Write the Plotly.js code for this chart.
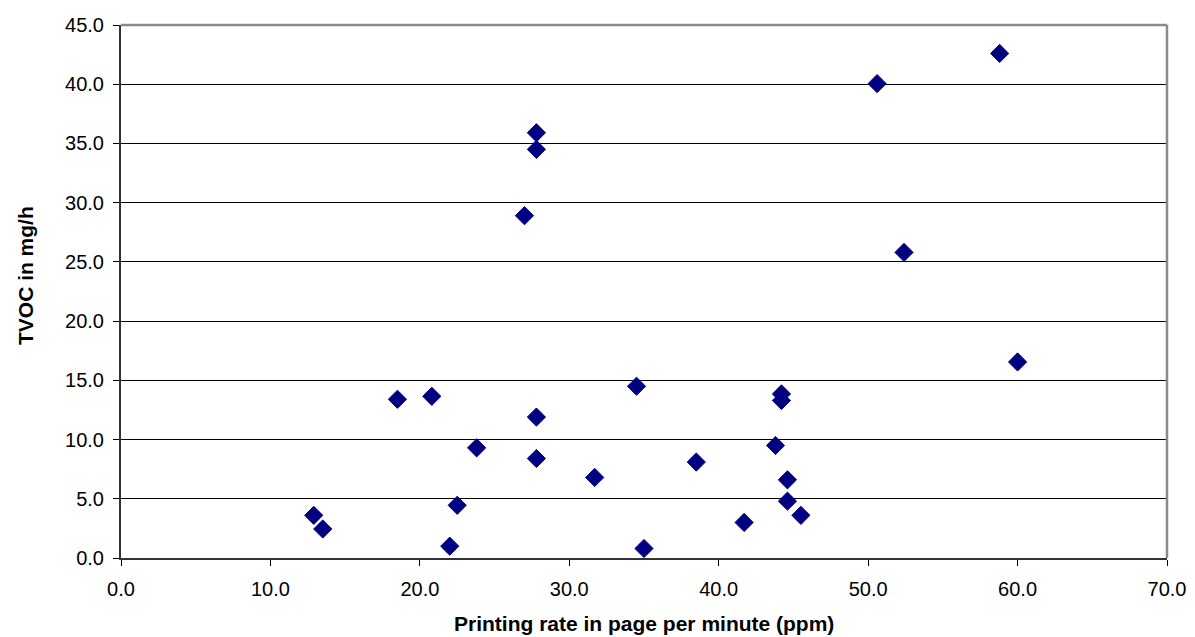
<!DOCTYPE html>
<html>
<head>
<meta charset="utf-8">
<script src="https://cdn.plot.ly/plotly-3.0.1.min.js"></script>
<style>
  html, body { margin: 0; padding: 0; background: #ffffff; }
  #chart { width: 1195px; height: 637px; }
</style>
</head>
<body>
<div id="chart"></div>
<script>
// Printing rate (ppm) per printer
const printRate = [12.9, 13.5, 18.5, 20.8, 22.0, 22.5, 23.8, 27.0, 27.8, 27.8, 27.8, 27.8,
                   31.7, 34.5, 35.0, 38.5, 41.7, 43.8, 44.2, 44.2, 44.6, 44.6, 45.5,
                   50.6, 52.4, 58.8, 60.0];
// TVOC emission (mg/h) per printer
const tvoc = [3.6, 2.45, 13.4, 13.65, 1.0, 4.45, 9.3, 28.9, 35.9, 34.5, 11.9, 8.4,
              6.8, 14.5, 0.8, 8.1, 3.0, 9.5, 13.85, 13.3, 6.6, 4.8, 3.6,
              40.05, 25.8, 42.6, 16.55];

const xTitle = 'Printing rate in page per minute (ppm)';
const yTitle = 'TVOC in mg/h';

const font = 'Arial, "Liberation Sans", Helvetica, sans-serif';

const trace = {
  type: 'scatter',
  mode: 'markers',
  x: printRate,
  y: tvoc,
  marker: { symbol: 'diamond', size: 14, color: '#000080', line: { color: '#000080', width: 1 } },
  hoverinfo: 'x+y'
};

const layout = {
  width: 1195,
  height: 637,
  margin: { l: 121, r: 28, t: 25, b: 79 },
  paper_bgcolor: '#ffffff',
  plot_bgcolor: '#ffffff',
  showlegend: false,
  font: { family: font, size: 20, color: '#000000' },
  xaxis: {
    range: [0, 70],
    dtick: 10,
    tick0: 0,
    tickformat: '.1f',
    ticks: 'outside',
    ticklen: 6,
    tickwidth: 1,
    tickcolor: '#000000',
    showgrid: false,
    zeroline: false,
    showline: true,
    linecolor: '#333333',
    linewidth: 2,
    ticklabelstandoff: 6,
    tickfont: { family: font, size: 20, color: '#000000' }
  },
  yaxis: {
    range: [0, 45],
    dtick: 5,
    tick0: 0,
    tickformat: '.1f',
    ticks: 'outside',
    ticklen: 6,
    tickwidth: 1,
    tickcolor: '#000000',
    showgrid: true,
    gridcolor: '#000000',
    gridwidth: 1,
    zeroline: false,
    showline: true,
    linecolor: '#333333',
    linewidth: 2,
    ticklabelstandoff: 5,
    tickfont: { family: font, size: 20, color: '#000000' }
  },
  shapes: [
    // gray frame on top and right of the plot area
    { type: 'line', xref: 'paper', yref: 'paper', x0: 0, x1: 1, y0: 1, y1: 1,
      line: { color: '#8a8a8a', width: 2.5 }, layer: 'above' },
    { type: 'line', xref: 'paper', yref: 'paper', x0: 1, x1: 1, y0: 0, y1: 1,
      line: { color: '#8a8a8a', width: 2.5 }, layer: 'above' }
  ],
  annotations: [
    { text: '<b>' + xTitle + '</b>', xref: 'paper', yref: 'paper', x: 0.5, y: -0.122,
      xanchor: 'center', yanchor: 'middle', showarrow: false,
      font: { family: font, size: 21, color: '#000000' } },
    { text: '<b>' + yTitle + '</b>', xref: 'paper', yref: 'paper', x: 0, y: 0.529,
      xshift: -96, xanchor: 'center', yanchor: 'middle', textangle: -90, showarrow: false,
      font: { family: font, size: 21, color: '#000000' } }
  ]
};

Plotly.newPlot('chart', [trace], layout, { displayModeBar: false, staticPlot: true });
</script>
</body>
</html>
